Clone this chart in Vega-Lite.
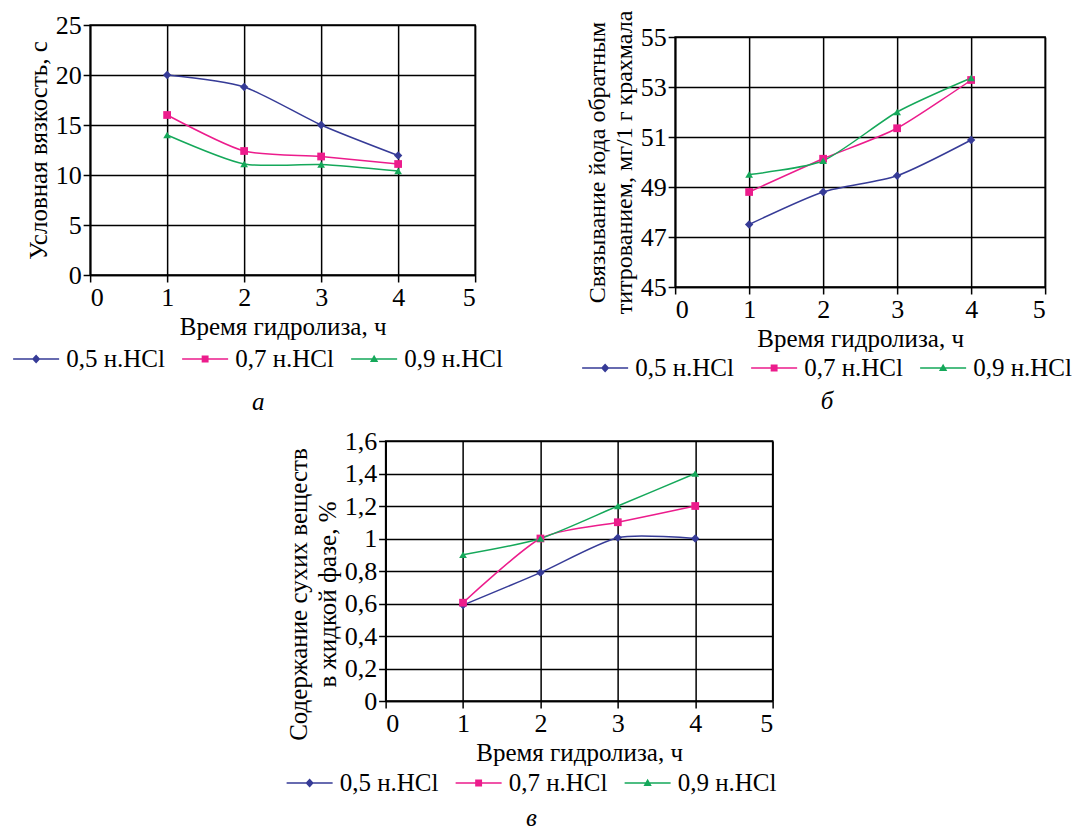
{
  "$schema": "https://vega.github.io/schema/vega-lite/v6.json",
  "background": "white",
  "padding": {"left": 12, "top": 5, "right": 0, "bottom": 0},
  "config": {
    "font": "Liberation Serif",
    "view": {"stroke": "black", "strokeWidth": 1.5},
    "axis": {
      "labelFont": "Liberation Serif", "titleFont": "Liberation Serif",
      "labelFontSize": 26, "titleFontSize": 25, "titleFontWeight": "normal",
      "labelColor": "black", "titleColor": "black",
      "domainColor": "black", "domainWidth": 1.5,
      "tickColor": "black", "tickWidth": 1.5, "tickSize": 7,
      "gridColor": "black", "gridOpacity": 1, "gridWidth": 1.5,
      "labelPadding": 2, "titlePadding": 4
    },
    "legend": {
      "labelFont": "Liberation Serif", "labelFontSize": 25, "labelColor": "black",
      "symbolSize": 2116, "symbolStrokeWidth": 0, "symbolOpacity": 1,
      "labelOffset": 7, "columnPadding": 17, "labelLimit": 300
    },
    "title": {"font": "Liberation Serif", "fontSize": 25, "fontStyle": "italic", "fontWeight": "normal", "color": "black"}
  },
  "datasets": {
    "da": [
      {"t": 1, "v": 20.0, "s": "0,5 н.HCl"}, {"t": 2, "v": 18.8, "s": "0,5 н.HCl"}, {"t": 3, "v": 15.0, "s": "0,5 н.HCl"}, {"t": 4, "v": 11.95, "s": "0,5 н.HCl"},
      {"t": 1, "v": 16.0, "s": "0,7 н.HCl"}, {"t": 2, "v": 12.4, "s": "0,7 н.HCl"}, {"t": 3, "v": 11.85, "s": "0,7 н.HCl"}, {"t": 4, "v": 11.1, "s": "0,7 н.HCl"},
      {"t": 1, "v": 14.0, "s": "0,9 н.HCl"}, {"t": 2, "v": 11.1, "s": "0,9 н.HCl"}, {"t": 3, "v": 11.05, "s": "0,9 н.HCl"}, {"t": 4, "v": 10.4, "s": "0,9 н.HCl"}
    ],
    "db": [
      {"t": 1, "v": 47.5, "s": "0,5 н.HCl"}, {"t": 2, "v": 48.8, "s": "0,5 н.HCl"}, {"t": 3, "v": 49.45, "s": "0,5 н.HCl"}, {"t": 4, "v": 50.88, "s": "0,5 н.HCl"},
      {"t": 1, "v": 48.8, "s": "0,7 н.HCl"}, {"t": 2, "v": 50.13, "s": "0,7 н.HCl"}, {"t": 3, "v": 51.35, "s": "0,7 н.HCl"}, {"t": 4, "v": 53.28, "s": "0,7 н.HCl"},
      {"t": 1, "v": 49.5, "s": "0,9 н.HCl"}, {"t": 2, "v": 50.05, "s": "0,9 н.HCl"}, {"t": 3, "v": 52.0, "s": "0,9 н.HCl"}, {"t": 4, "v": 53.36, "s": "0,9 н.HCl"}
    ],
    "dc": [
      {"t": 1, "v": 0.59, "s": "0,5 н.HCl"}, {"t": 2, "v": 0.79, "s": "0,5 н.HCl"}, {"t": 3, "v": 1.005, "s": "0,5 н.HCl"}, {"t": 4, "v": 1.0, "s": "0,5 н.HCl"},
      {"t": 1, "v": 0.605, "s": "0,7 н.HCl"}, {"t": 2, "v": 1.0, "s": "0,7 н.HCl"}, {"t": 3, "v": 1.1, "s": "0,7 н.HCl"}, {"t": 4, "v": 1.2, "s": "0,7 н.HCl"},
      {"t": 1, "v": 0.9, "s": "0,9 н.HCl"}, {"t": 2, "v": 1.0, "s": "0,9 н.HCl"}, {"t": 3, "v": 1.2, "s": "0,9 н.HCl"}, {"t": 4, "v": 1.4, "s": "0,9 н.HCl"}
    ],
    "blank": [{"k": ""}]
  },
  "vconcat": [
    {
      "hconcat": [
        {"vconcat": [
        {"width": 1, "height": 4, "data": {"name": "blank"}, "view": {"stroke": "transparent"}, "mark": {"type": "rect", "opacity": 0}, "encoding": {}},
        {
          "width": 385, "height": 250,
          "data": {"name": "da"},
          "title": {"text": "а", "orient": "bottom", "anchor": "middle", "frame": "bounds", "offset": 18},
          "encoding": {
            "x": {"field": "t", "type": "quantitative", "scale": {"domain": [0, 5]}, "axis": {"values": [0, 1, 2, 3, 4, 5], "title": "Время гидролиза, ч"}},
            "y": {"field": "v", "type": "quantitative", "scale": {"domain": [0, 25]}, "axis": {"values": [0, 5, 10, 15, 20, 25], "title": "Условная вязкость, с"}}
          },
          "layer": [
            {"transform": [{"filter": "datum.s === '0,5 н.HCl'"}], "mark": {"type": "line", "interpolate": "cardinal", "tension": 0.3, "strokeWidth": 1.5, "color": "#363b97"}, "encoding": {}},
            {"transform": [{"filter": "datum.s === '0,7 н.HCl'"}], "mark": {"type": "line", "interpolate": "cardinal", "tension": 0.3, "strokeWidth": 1.5, "color": "#ec1c8c"}, "encoding": {}},
            {"transform": [{"filter": "datum.s === '0,9 н.HCl'"}], "mark": {"type": "line", "interpolate": "cardinal", "tension": 0.3, "strokeWidth": 1.5, "color": "#15a85a"}, "encoding": {}},
            {"transform": [{"filter": "datum.s === '0,5 н.HCl'"}], "mark": {"type": "point", "filled": true, "size": 70, "opacity": 1, "shape": "diamond", "color": "#363b97"}},
            {"transform": [{"filter": "datum.s === '0,7 н.HCl'"}], "mark": {"type": "point", "filled": true, "size": 60, "opacity": 1, "shape": "square", "color": "#ec1c8c"}},
            {"transform": [{"filter": "datum.s === '0,9 н.HCl'"}], "mark": {"type": "point", "filled": true, "size": 60, "opacity": 1, "shape": "triangle-up", "color": "#15a85a"}},
            {"transform": [{"filter": "datum.t > 100"}], "mark": {"type": "point", "filled": true, "opacity": 1},
             "encoding": {
               "color": {"field": "s", "type": "nominal", "scale": {"domain": ["0,5 н.HCl", "0,7 н.HCl", "0,9 н.HCl"], "range": ["#363b97", "#ec1c8c", "#15a85a"]},
                 "legend": {"title": null, "orient": "none", "direction": "horizontal", "legendX": -77, "legendY": 311}},
               "shape": {"field": "s", "type": "nominal", "scale": {"domain": ["0,5 н.HCl", "0,7 н.HCl", "0,9 н.HCl"], "range": ["M-1,-0.035H1V0.035H-1Z M0,-0.2L0.18,0L0,0.2L-0.18,0Z", "M-1,-0.035H1V0.035H-1Z M-0.15,-0.15H0.15V0.15H-0.15Z", "M-1,-0.035H1V0.035H-1Z M0,-0.18L0.18,0.13L-0.18,0.13Z"]},
                 "legend": {"title": null, "orient": "none", "direction": "horizontal", "legendX": -77, "legendY": 311}}}}
          ]
        }], "spacing": 0, "resolve": {"scale": {"color": "independent", "shape": "independent"}, "legend": {"color": "independent", "shape": "independent"}}},
        {"vconcat": [
        {"width": 1, "height": 2, "data": {"name": "blank"}, "view": {"stroke": "transparent"}, "mark": {"type": "rect", "opacity": 0}, "encoding": {}},
        {
          "width": 370, "height": 250,
          "data": {"name": "db"},
          "title": {"text": "б", "orient": "bottom", "anchor": "middle", "frame": "bounds", "offset": 8},
          "encoding": {
            "x": {"field": "t", "type": "quantitative", "scale": {"domain": [0, 5]}, "axis": {"values": [0, 1, 2, 3, 4, 5], "title": "Время гидролиза, ч"}},
            "y": {"field": "v", "type": "quantitative", "scale": {"domain": [45, 55], "zero": false}, "axis": {"values": [45, 47, 49, 51, 53, 55], "title": ["Связывание йода обратным", "титрованием, мг/1 г крахмала"], "titleLineHeight": 27, "titleFontSize": 24}}
          },
          "layer": [
            {"transform": [{"filter": "datum.s === '0,5 н.HCl'"}], "mark": {"type": "line", "interpolate": "cardinal", "tension": 0.3, "strokeWidth": 1.5, "color": "#363b97"}, "encoding": {}},
            {"transform": [{"filter": "datum.s === '0,7 н.HCl'"}], "mark": {"type": "line", "interpolate": "cardinal", "tension": 0.3, "strokeWidth": 1.5, "color": "#ec1c8c"}, "encoding": {}},
            {"transform": [{"filter": "datum.s === '0,9 н.HCl'"}], "mark": {"type": "line", "interpolate": "cardinal", "tension": 0.3, "strokeWidth": 1.5, "color": "#15a85a"}, "encoding": {}},
            {"transform": [{"filter": "datum.s === '0,5 н.HCl'"}], "mark": {"type": "point", "filled": true, "size": 70, "opacity": 1, "shape": "diamond", "color": "#363b97"}},
            {"transform": [{"filter": "datum.s === '0,7 н.HCl'"}], "mark": {"type": "point", "filled": true, "size": 60, "opacity": 1, "shape": "square", "color": "#ec1c8c"}},
            {"transform": [{"filter": "datum.s === '0,9 н.HCl'"}], "mark": {"type": "point", "filled": true, "size": 60, "opacity": 1, "shape": "triangle-up", "color": "#15a85a"}},
            {"transform": [{"filter": "datum.t > 100"}], "mark": {"type": "point", "filled": true, "opacity": 1},
             "encoding": {
               "color": {"field": "s", "type": "nominal", "scale": {"domain": ["0,5 н.HCl", "0,7 н.HCl", "0,9 н.HCl"], "range": ["#363b97", "#ec1c8c", "#15a85a"]},
                 "legend": {"title": null, "orient": "none", "direction": "horizontal", "legendX": -93, "legendY": 308}},
               "shape": {"field": "s", "type": "nominal", "scale": {"domain": ["0,5 н.HCl", "0,7 н.HCl", "0,9 н.HCl"], "range": ["M-1,-0.035H1V0.035H-1Z M0,-0.2L0.18,0L0,0.2L-0.18,0Z", "M-1,-0.035H1V0.035H-1Z M-0.15,-0.15H0.15V0.15H-0.15Z", "M-1,-0.035H1V0.035H-1Z M0,-0.18L0.18,0.13L-0.18,0.13Z"]},
                 "legend": {"title": null, "orient": "none", "direction": "horizontal", "legendX": -93, "legendY": 308}}}}
          ]
        }], "spacing": 0, "resolve": {"scale": {"color": "independent", "shape": "independent"}, "legend": {"color": "independent", "shape": "independent"}}}
      ],
      "spacing": 77,
      "resolve": {"scale": {"color": "independent", "shape": "independent"}, "legend": {"color": "independent", "shape": "independent"}}
    },
    {
      "width": 387, "height": 260,
      "data": {"name": "dc"},
      "title": {"text": "в", "orient": "bottom", "anchor": "middle", "frame": "bounds", "offset": 10},
      "encoding": {
        "x": {"field": "t", "type": "quantitative", "scale": {"domain": [0, 5]}, "axis": {"values": [0, 1, 2, 3, 4, 5], "title": "Время гидролиза, ч"}},
        "y": {"field": "v", "type": "quantitative", "scale": {"domain": [0, 1.6]}, "axis": {"values": [0, 0.2, 0.4, 0.6, 0.8, 1, 1.2, 1.4, 1.6], "labelExpr": "replace(toString(datum.value), '.', ',')", "title": ["Содержание сухих веществ", "в жидкой фазе, %"], "titleLineHeight": 29, "titleY": 153}}
      },
      "layer": [
        {"transform": [{"filter": "datum.s === '0,5 н.HCl'"}], "mark": {"type": "line", "interpolate": "cardinal", "tension": 0.3, "strokeWidth": 1.5, "color": "#363b97"}, "encoding": {}},
        {"transform": [{"filter": "datum.s === '0,7 н.HCl'"}], "mark": {"type": "line", "interpolate": "cardinal", "tension": 0.3, "strokeWidth": 1.5, "color": "#ec1c8c"}, "encoding": {}},
        {"transform": [{"filter": "datum.s === '0,9 н.HCl'"}], "mark": {"type": "line", "interpolate": "cardinal", "tension": 0.3, "strokeWidth": 1.5, "color": "#15a85a"}, "encoding": {}},
        {"transform": [{"filter": "datum.s === '0,5 н.HCl'"}], "mark": {"type": "point", "filled": true, "size": 70, "opacity": 1, "shape": "diamond", "color": "#363b97"}},
        {"transform": [{"filter": "datum.s === '0,7 н.HCl'"}], "mark": {"type": "point", "filled": true, "size": 60, "opacity": 1, "shape": "square", "color": "#ec1c8c"}},
        {"transform": [{"filter": "datum.s === '0,9 н.HCl'"}], "mark": {"type": "point", "filled": true, "size": 60, "opacity": 1, "shape": "triangle-up", "color": "#15a85a"}},
        {"transform": [{"filter": "datum.t > 100"}], "mark": {"type": "point", "filled": true, "opacity": 1},
         "encoding": {
           "color": {"field": "s", "type": "nominal", "scale": {"domain": ["0,5 н.HCl", "0,7 н.HCl", "0,9 н.HCl"], "range": ["#363b97", "#ec1c8c", "#15a85a"]},
             "legend": {"title": null, "orient": "none", "direction": "horizontal", "legendX": -99, "legendY": 319}},
           "shape": {"field": "s", "type": "nominal", "scale": {"domain": ["0,5 н.HCl", "0,7 н.HCl", "0,9 н.HCl"], "range": ["M-1,-0.035H1V0.035H-1Z M0,-0.2L0.18,0L0,0.2L-0.18,0Z", "M-1,-0.035H1V0.035H-1Z M-0.15,-0.15H0.15V0.15H-0.15Z", "M-1,-0.035H1V0.035H-1Z M0,-0.18L0.18,0.13L-0.18,0.13Z"]},
             "legend": {"title": null, "orient": "none", "direction": "horizontal", "legendX": -99, "legendY": 319}}}}
      ]
    }
  ],
  "spacing": 11,
  "center": true,
  "resolve": {"scale": {"color": "independent", "shape": "independent"}, "legend": {"color": "independent", "shape": "independent"}}
}
